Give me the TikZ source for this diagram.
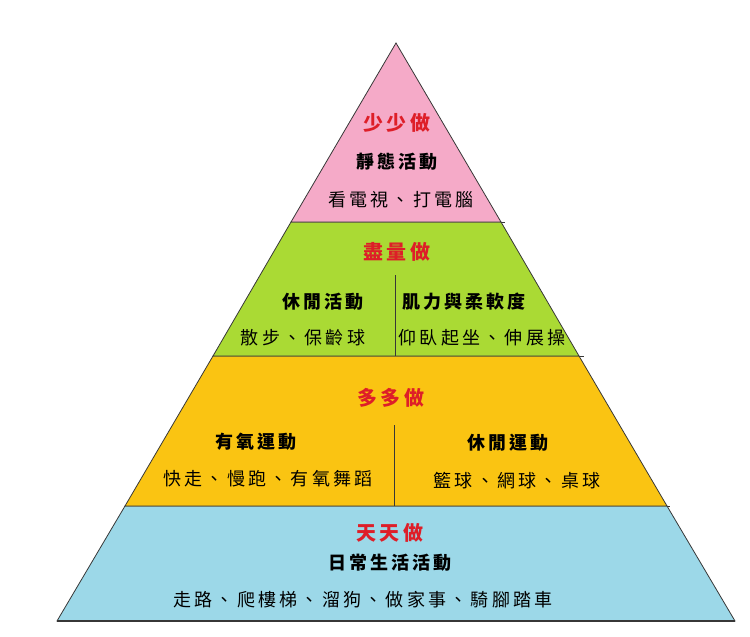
\documentclass[tikz,border=0pt]{standalone}
\usepackage{fontspec}
\newfontfamily\cjk{Noto Sans CJK TC}
\usetikzlibrary{positioning}

\definecolor{pinkband}{RGB}{245,170,200}
\definecolor{greenband}{RGB}{170,218,52}
\definecolor{orangeband}{RGB}{250,196,18}
\definecolor{blueband}{RGB}{156,216,232}
\definecolor{titlered}{RGB}{222,30,40}
\definecolor{edgegray}{RGB}{55,55,55}

\tikzset{
  band/.style={draw=edgegray, line width=0.8pt},
  divider/.style={draw=edgegray, line width=0.9pt},
  level/.style={font=\cjk\bfseries\fontsize{20}{20}\selectfont\addfontfeature{LetterSpace=18}, text=titlered, inner sep=0pt},
  head/.style={font=\cjk\bfseries\fontsize{18}{18}\selectfont\addfontfeature{LetterSpace=16}, inner sep=0pt},
  item/.style={font=\cjk\fontsize{18}{18}\selectfont\addfontfeature{LetterSpace=18}, inner sep=0pt}
}

\begin{document}
\begin{tikzpicture}[x=1pt, y=-1pt, node distance=38pt, on grid]
    \useasboundingbox (0,0) rectangle (750,637);

    % Corners of the pyramid
    \coordinate (top) at (396,43);
    \coordinate (l1) at (291,222);   \coordinate (r1) at (501,222);
    \coordinate (l2) at (213,356);   \coordinate (r2) at (579,356);
    \coordinate (l3) at (125,506);   \coordinate (r3) at (667,506);
    \coordinate (l4) at (57,621);    \coordinate (r4) at (735,621);

    % Bands
    \path[band, fill=blueband] (l3) -- (r3) -- (r4) -- (l4) -- cycle;
    \path[band, fill=orangeband] (l2) -- (r2) -- (r3) -- (l3) -- cycle;
    \path[band, fill=greenband] (l1) -- (r1) -- (r2) -- (l2) -- cycle;
    \path[band, fill=pinkband] (top) -- (r1) -- (l1) -- cycle;
    \draw[band] (r1) -- ++(4,0) (r2) -- ++(5,0) (r3) -- ++(3,0);
    \draw[band, line width=1.3pt] (l4) -- (r4);

    % Dividers
    \coordinate (g1) at (395,275);  \coordinate (g2) at (395,356);
    \coordinate (o1) at (394,425);  \coordinate (o2) at (394,506);
    \draw[divider] (g1) -- (g2) (o1) -- (o2);

    % Less
    \node[level] (few) at (397,123) {少少做};
    \node[head, below=39pt of few] (static) {靜態活動};
    \node[item, below=of static, xshift=4pt] (screen) {看電視、打電腦};

    % As much as possible
    \node[level] (most) at (397,252) {盡量做};
    \node[head] (leisure) at (323,302) {休閒活動};
    \node[item, below=36pt of leisure, xshift=-20pt] (stroll) {散步、保齡球};
    \node[head] (muscle) at (464,302) {肌力與柔軟度};
    \node[item, below=36pt of muscle, xshift=18pt] (stretch) {仰臥起坐、伸展操};

    % More
    \node[level] (more) at (391,398) {多多做};
    \node[head] (aerobic) at (256,442) {有氧運動};
    \node[item, below=37pt of aerobic, xshift=12pt] (jog) {快走、慢跑、有氧舞蹈};
    \node[head] (sport) at (508,443) {休閒運動};
    \node[item, below=of sport, xshift=9pt] (balls) {籃球、網球、桌球};

    % Every day
    \node[level] (daily) at (390,533) {天天做};
    \node[head, below=30pt of daily] (life) {日常生活活動};
    \node[item, below=37pt of life, xshift=-27pt] (chores) {走路、爬樓梯、溜狗、做家事、騎腳踏車};
\end{tikzpicture}
\end{document}
